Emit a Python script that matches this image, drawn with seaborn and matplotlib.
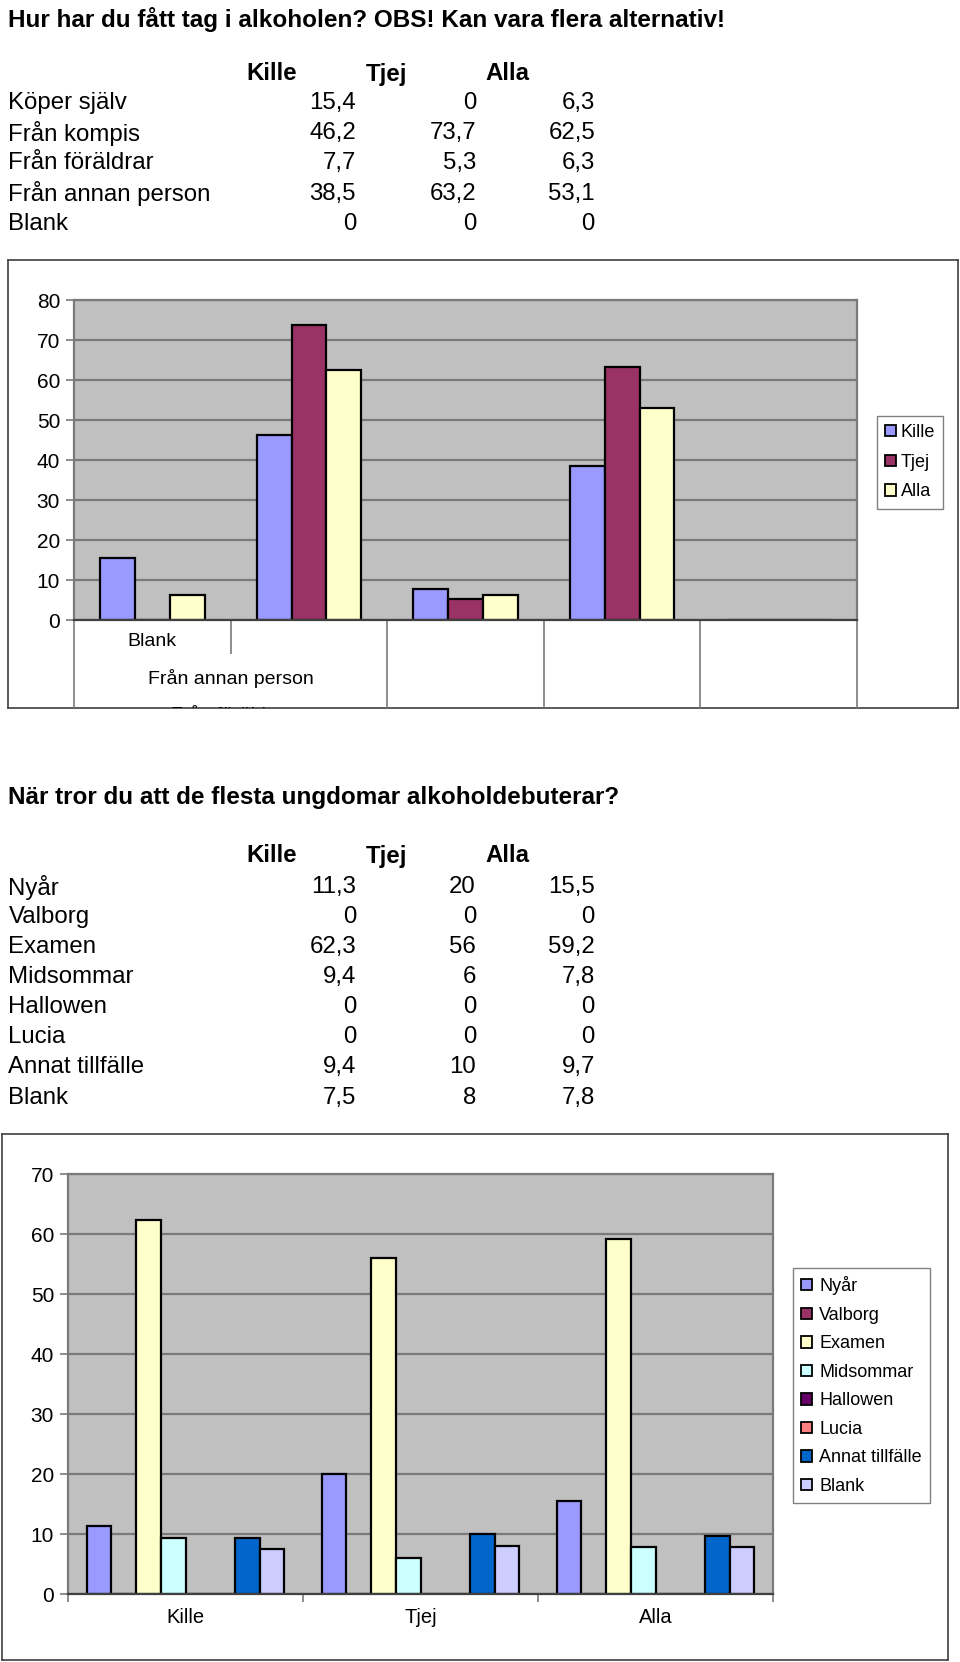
import numpy as np
import pandas as pd
import matplotlib
matplotlib.use("Agg")
import matplotlib.pyplot as plt
import matplotlib.patches as mpatches
import matplotlib.transforms as mtransforms
import seaborn as sns

# ---------------- data ----------------
title1 = "Hur har du fått tag i alkoholen? OBS! Kan vara flera alternativ!"
groups = ["Kille", "Tjej", "Alla"]
sources = ["Köper själv", "Från kompis", "Från föräldrar", "Från annan person", "Blank"]
kille1 = [15.4, 46.2, 7.7, 38.5, 0]
tjej1 = [0, 73.7, 5.3, 63.2, 0]
alla1 = [6.3, 62.5, 6.3, 53.1, 0]
# category labels as they appear (staggered) under the first chart
axis_labels1 = ["Blank", "Från annan person", "Från föräldrar"]
yticks1 = [0, 10, 20, 30, 40, 50, 60, 70, 80]

title2 = "När tror du att de flesta ungdomar alkoholdebuterar?"
occasions = ["Nyår", "Valborg", "Examen", "Midsommar", "Hallowen", "Lucia",
             "Annat tillfälle", "Blank"]
kille2 = [11.3, 0, 62.3, 9.4, 0, 0, 9.4, 7.5]
tjej2 = [20, 0, 56, 6, 0, 0, 10, 8]
alla2 = [15.5, 0, 59.2, 7.8, 0, 0, 9.7, 7.8]
yticks2 = [0, 10, 20, 30, 40, 50, 60, 70]

colors1 = ["#9999FF", "#993366", "#FFFFCC"]
colors2 = ["#9999FF", "#993366", "#FFFFCC", "#CCFFFF", "#660066", "#FF8080",
           "#0066CC", "#CCCCFF"]

# ---------------- setup ----------------
sns.set_theme(style="white")
plt.rcParams["font.family"] = ["Liberation Sans", "DejaVu Sans"]
plt.rcParams["text.color"] = "black"

W, H = 960, 1662
fig = plt.figure(figsize=(W / 100, H / 100), dpi=100)
fig.patch.set_facecolor("white")


def rect(x0, y0, x1, y1):
    return [x0 / W, 1 - y1 / H, (x1 - x0) / W, (y1 - y0) / H]


def fx(x):
    return x / W


def fy(y):
    return 1 - y / H


def fmt(v):
    if float(v).is_integer():
        return str(int(v))
    return f"{v:.1f}".replace(".", ",")


TXT = 17.3
TTL = 17.5
TICK = 15
XTICK = 14.5
CAT = 14


def draw_table(title, ytitle, row_names, cols, yhead, rows_y):
    fig.text(fx(8.5), fy(ytitle), title, fontsize=TTL, fontweight="bold",
             va="center", ha="left")
    head_x = [272, 387, 507]
    val_x = [356, 476, 595]
    for g, hx in zip(groups, head_x):
        fig.text(fx(hx), fy(yhead), g, fontsize=TXT, fontweight="bold",
                 ha="center", va="center")
    for i, name in enumerate(row_names):
        fig.text(fx(8.5), fy(rows_y[i]), name, fontsize=TXT, ha="left", va="center")
        for c, vx in zip(cols, val_x):
            fig.text(fx(vx), fy(rows_y[i]), fmt(c[i]), fontsize=TXT,
                     ha="right", va="center")


def style_box(b):
    b.set_xticks([])
    b.set_yticks([])
    b.patch.set_facecolor("white")
    for s in b.spines.values():
        s.set_visible(True)
        s.set_color("#404040")
        s.set_linewidth(1.2)
    b.set_zorder(0)


def style_plot(ax, ymax, yticks):
    ax.set_zorder(1)
    ax.set_facecolor("#C0C0C0")
    ax.set_ylim(0, ymax)
    ax.set_yticks(yticks)
    ax.yaxis.grid(True, color="#7A7A7A", lw=1.6)
    ax.xaxis.grid(False)
    ax.set_axisbelow(True)
    ax.set_xlabel("")
    ax.set_ylabel("")
    for k in ["top", "right", "left"]:
        ax.spines[k].set_visible(True)
        ax.spines[k].set_color("#7A7A7A")
        ax.spines[k].set_linewidth(1.6)
    ax.spines["bottom"].set_visible(True)
    ax.spines["bottom"].set_color("#404040")
    ax.spines["bottom"].set_linewidth(1.6)
    ax.tick_params(axis="y", direction="out", length=6, width=1.2,
                   color="#7A7A7A", labelsize=TICK, labelcolor="black", pad=4,
                   left=True)


# ---------------- part 1 ----------------
draw_table(title1, 19, sources, [kille1, tjej1, alla1], 74,
           [103, 133.5, 163, 194, 224])

box1 = fig.add_axes(rect(7.5, 260, 958, 708))
style_box(box1)
ax1 = fig.add_axes(rect(74, 300, 857, 620))

df1 = pd.DataFrame({"Kille": kille1, "Tjej": tjej1, "Alla": alla1}, index=sources)
df1 = df1.reset_index(names="cat").melt(id_vars="cat", var_name="grp", value_name="val")
sns.barplot(data=df1, x="cat", y="val", hue="grp", order=sources, hue_order=groups,
            palette=colors1, saturation=1, width=3 / 4.5, edgecolor="black",
            linewidth=1.6, errorbar=None, legend=False, ax=ax1)
style_plot(ax1, 80, yticks1)
ax1.set_xlim(-0.5, len(sources) - 0.5)
ax1.set_xticks([])

# category separators below the axis
xt = ax1.get_xaxis_transform()
ph = 320.0
ax1.vlines([-0.5, 1.5, 2.5, 3.5, 4.5], ymin=-(708 - 620) / ph, ymax=0, transform=xt,
           colors="#7A7A7A", lw=1.2, clip_on=False, zorder=0)
ax1.vlines([0.5], ymin=-(654 - 620) / ph, ymax=0, transform=xt,
           colors="#7A7A7A", lw=1.2, clip_on=False, zorder=0)

bt = mtransforms.blended_transform_factory(ax1.transData, ax1.transAxes)
box1.text(0, -(642 - 620) / ph, axis_labels1[0], transform=bt, ha="center",
          va="center", fontsize=CAT, clip_on=True)
box1.text(0.5, -(678 - 620) / ph, axis_labels1[1], transform=bt, ha="center",
          va="center", fontsize=CAT, clip_on=True)
box1.text(0.5, -(715 - 620) / ph, axis_labels1[2], transform=bt, ha="center",
          va="center", fontsize=CAT, clip_on=True)

h1 = [mpatches.Patch(facecolor=c, edgecolor="black", lw=1.3) for c in colors1]
leg1 = fig.legend(h1, groups, loc="upper left", bbox_to_anchor=(fx(877), fy(416)),
                  bbox_transform=fig.transFigure, fontsize=13, handlelength=0.6,
                  handleheight=0.6, handletextpad=0.25, labelspacing=0.7,
                  borderpad=0.45, borderaxespad=0, fancybox=False,
                  edgecolor="#808080", framealpha=1)
leg1.get_frame().set_linewidth(1.0)

# ---------------- part 2 ----------------
draw_table(title2, 798, occasions, [kille2, tjej2, alla2], 856,
           [887, 917, 947, 977, 1007, 1037, 1067, 1098])

box2 = fig.add_axes(rect(2, 1134, 948, 1660))
style_box(box2)
ax2 = fig.add_axes(rect(68, 1174, 773, 1594))

df2 = pd.DataFrame({"Kille": kille2, "Tjej": tjej2, "Alla": alla2}, index=occasions)
df2 = df2.reset_index(names="occ").melt(id_vars="occ", var_name="grp", value_name="val")
sns.barplot(data=df2, x="grp", y="val", hue="occ", order=groups, hue_order=occasions,
            palette=colors2, saturation=1, width=8 / 9.5, edgecolor="black",
            linewidth=1.6, errorbar=None, legend=False, ax=ax2)
style_plot(ax2, 70, yticks2)
ax2.set_xlim(-0.5, len(groups) - 0.5)
ax2.set_xticks(range(len(groups)))
ax2.set_xticklabels(groups)
ax2.set_xticks([-0.5, 0.5, 1.5, 2.5], minor=True)
ax2.tick_params(axis="x", which="major", length=0, labelsize=XTICK, pad=10,
                labelcolor="black")
ax2.tick_params(axis="x", which="minor", direction="out", length=6, width=1.2,
                color="#7A7A7A", bottom=True)

h2 = [mpatches.Patch(facecolor=c, edgecolor="black", lw=1.3) for c in colors2]
leg2 = fig.legend(h2, occasions, loc="upper left", bbox_to_anchor=(fx(793), fy(1268)),
                  bbox_transform=fig.transFigure, fontsize=13, handlelength=0.6,
                  handleheight=0.6, handletextpad=0.4, labelspacing=0.64,
                  borderpad=0.45, borderaxespad=0, fancybox=False,
                  edgecolor="#808080", framealpha=1)
leg2.get_frame().set_linewidth(1.0)

fig.savefig("out.png", dpi=100, facecolor="white")
